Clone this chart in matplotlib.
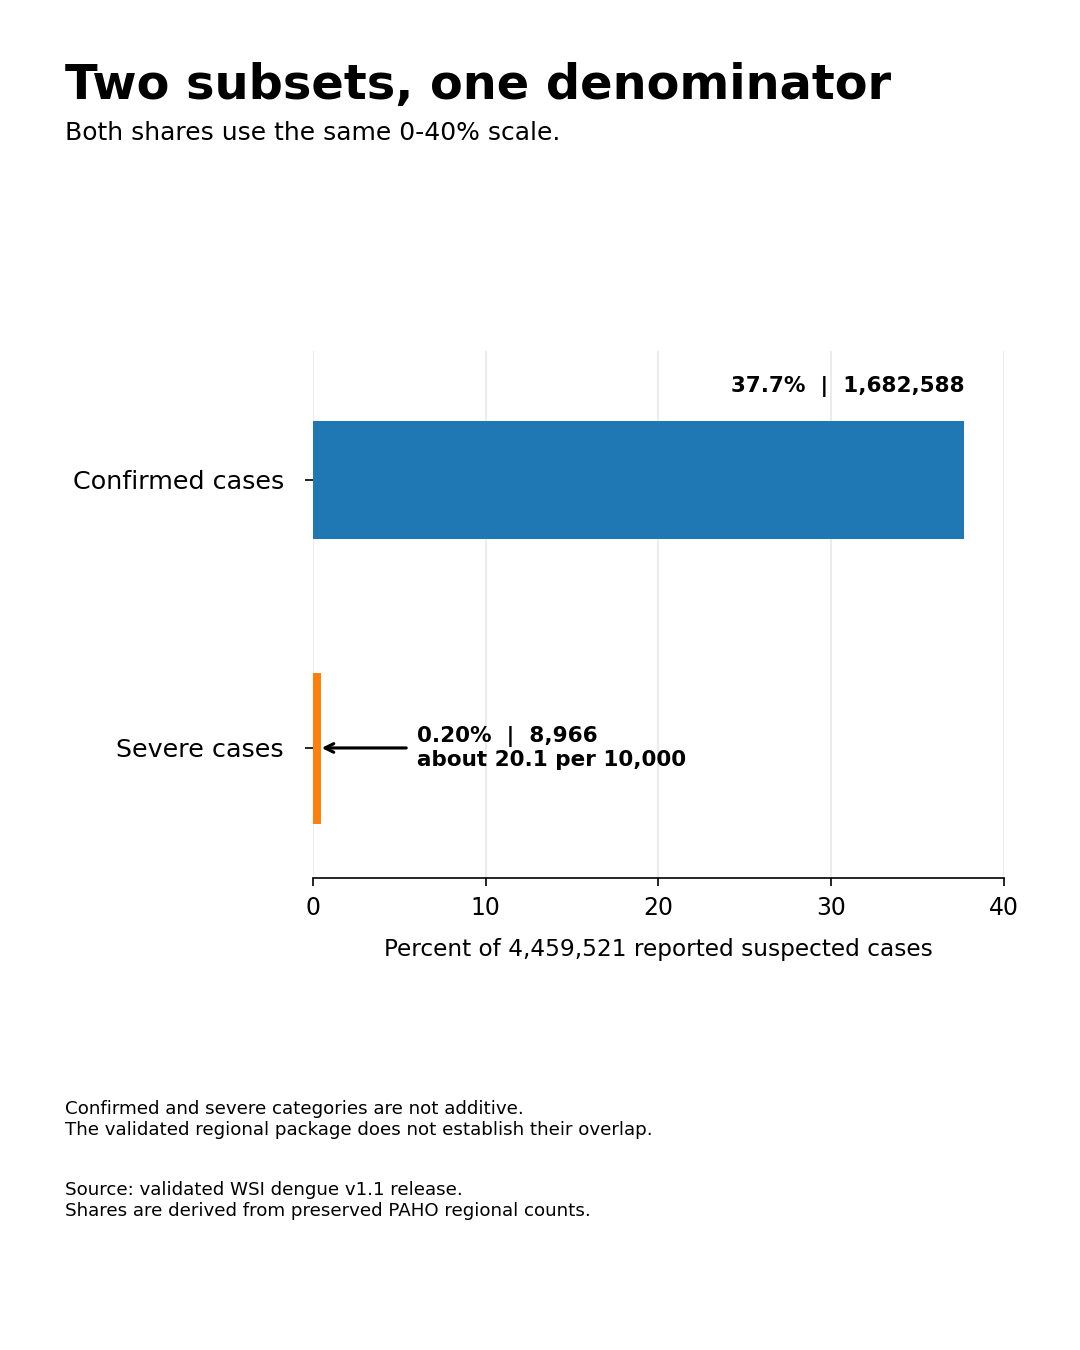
import matplotlib
matplotlib.use("Agg")
import matplotlib.pyplot as plt

# 数据
categories = ["Severe cases", "Confirmed cases"]
shares = [0.20, 37.7]
counts = [8966, 1682588]
bar_heights = [0.53, 0.44]
bar_colors = ["#ff7f0e", "#1f77b4"]
denominator = 4459521
per_10k = 20.1

title = "Two subsets, one denominator"
subtitle = "Both shares use the same 0-40% scale."
note = ("Confirmed and severe categories are not additive.\n"
        "The validated regional package does not establish their overlap.")
source = ("Source: validated WSI dengue v1.1 release.\n"
          "Shares are derived from preserved PAHO regional counts.")

plt.rcParams['font.family'] = ['DejaVu Sans']

fig = plt.figure(figsize=(7.2, 9), dpi=150)
ax = fig.add_axes([0.2898, 0.3496, 0.6398, 0.3904])

ypos = list(range(len(categories)))
# 严重病例的柱子很细，用描边让它可见
ax.barh(ypos, shares, height=bar_heights, color=bar_colors,
        edgecolor=bar_colors, linewidth=[4.3, 0], zorder=3)

ax.set_xlim(0, 40)
ax.set_ylim(-0.485, 1.48)
ax.set_xticks([0, 10, 20, 30, 40])
ax.set_yticks(ypos)
ax.set_yticklabels(categories)
ax.tick_params(axis='y', labelsize=12.2, length=4, pad=10)
ax.tick_params(axis='x', labelsize=11.3, length=4, pad=4.5)
ax.set_xlabel(f"Percent of {denominator:,} reported suspected cases",
              fontsize=11.2, labelpad=9)
ax.grid(axis='x', color='#ebebeb', linewidth=1, zorder=0)
for s in ['top', 'right', 'left']:
    ax.spines[s].set_visible(False)

# 标注
ax.text(shares[1], 1 + bar_heights[1] / 2 + 0.09,
        f"{shares[1]:.1f}%  |  {counts[1]:,}",
        ha='right', va='bottom', fontsize=10.3, fontweight='bold')
ax.annotate(f"{shares[0]:.2f}%  |  {counts[0]:,}\nabout {per_10k} per 10,000",
            xy=(shares[0], 0), xytext=(6.0, 0),
            ha='left', va='center', fontsize=10.3, fontweight='bold',
            arrowprops=dict(arrowstyle='->', color='black', lw=1.5,
                            shrinkA=3, shrinkB=2.5))

fig.text(0.060, 0.9267, title, fontsize=23, fontweight='bold', va='baseline')
fig.text(0.060, 0.8963, subtitle, fontsize=12, va='baseline')
fig.text(0.060, 1 - 1100 / 1350, note, fontsize=8.75, va='top', linespacing=1.2)
fig.text(0.060, 1 - 1181 / 1350, source, fontsize=8.75, va='top', linespacing=1.2)

fig.savefig("out.png", dpi=150)
